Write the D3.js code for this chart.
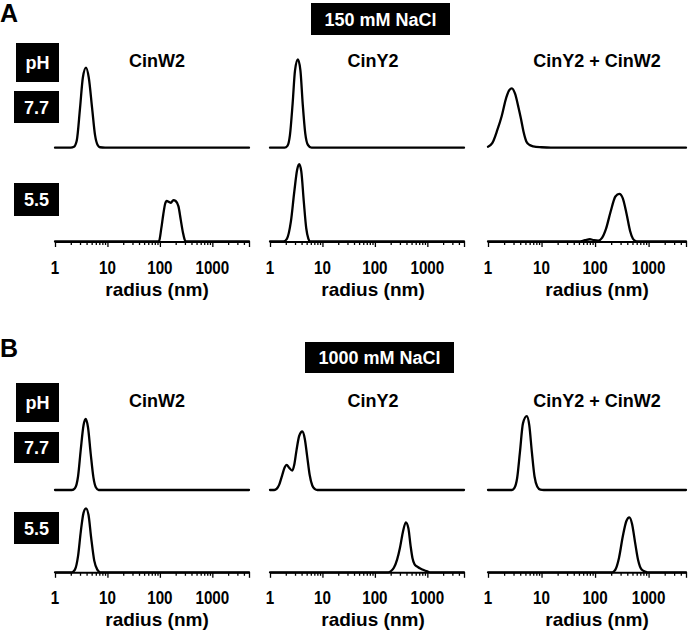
<!DOCTYPE html>
<html>
<head>
<meta charset="utf-8">
<script src="https://cdn.jsdelivr.net/npm/d3@7"></script>
<style>
  html, body { margin: 0; padding: 0; background: #fff; }
  svg { display: block; }
</style>
</head>
<body>
<script>
// ---------------- DATA ----------------
const panelLetters = ["A", "B"];
const salts = ["150 mM NaCl", "1000 mM NaCl"];
const proteins = ["CinW2", "CinY2", "CinY2 + CinW2"];
const pHs = ["7.7", "5.5"];
const radiusDomain = [1, 5000];
const majorTicks = [1, 10, 100, 1000];
const minorTicks = [2, 3, 4, 5, 6, 7, 8, 9, 20, 30, 40, 50, 60, 70, 80, 90,
  200, 300, 400, 500, 600, 700, 800, 900, 2000, 3000, 4000, 5000];
const xLabel = "radius (nm)";

// size distributions: [radius (nm), intensity (a.u.)]
// 150 mM NaCl, pH 7.7
const na150_pH77_CinW2 = [[1,0],[2.0,0],[2.3,1],[2.6,8],[3.0,44],[3.4,78],[3.9,89],[4.4,78],[5.1,44],[5.8,14],[6.5,3],[7.2,0.5],[9,0],[5000,0]];
const na150_pH77_CinY2 = [[1,0],[1.9,0],[2.15,2],[2.4,14],[2.7,49],[3.0,86],[3.4,98],[3.8,86],[4.2,49],[4.7,16],[5.3,3],[6.2,0],[5000,0]];
const na150_pH77_Mix = [[1,1],[1.2,5],[1.5,20],[1.8,35],[2.2,56],[2.5,64],[2.8,66],[3.2,60],[3.7,45],[4.1,33],[4.6,18],[5.2,7],[6,3],[7,1.5],[10,0.5],[15,0],[5000,0]];
// 150 mM NaCl, pH 5.5
const na150_pH55_CinW2 = [[1,0],[92,0],[97,1],[106,14],[116,30],[126,42],[135,45],[148,44],[162,43],[181,46],[200,45],[226,39],[250,24],[275,10],[302,1],[320,0],[5000,0]];
const na150_pH55_CinY2 = [[1,0],[1.8,0],[2.1,3],[2.5,22],[2.9,55],[3.3,80],[3.6,86],[3.95,78],[4.4,45],[4.9,15],[5.4,3],[5.8,0],[5000,0]];
const na150_pH55_Mix = [[1,0],[50,0],[65,1.5],[80,2.5],[95,1.5],[115,1],[135,4],[160,14],[195,33],[240,50],[284,53],[330,48],[390,30],[450,12],[510,3],[570,0.5],[620,0],[5000,0]];
// 1000 mM NaCl, pH 7.7
const na1000_pH77_CinW2 = [[1,0],[2.1,0],[2.4,2],[2.75,15],[3.1,45],[3.5,72],[3.85,79],[4.25,70],[4.8,40],[5.4,14],[6.0,3],[6.8,0],[5000,0]];
const na1000_pH77_CinY2 = [[1,0],[1.2,0],[1.35,1.5],[1.5,6],[1.7,16],[1.9,25],[2.08,28],[2.3,25],[2.66,21.5],[2.9,28],[3.2,44],[3.6,60],[4.13,65],[4.6,57],[5.1,38],[5.7,17],[6.4,5],[7.2,1],[8,0],[5000,0]];
const na1000_pH77_Mix = [[1,0],[2.8,0],[3.1,2],[3.5,13],[3.95,42],[4.5,74],[5.3,82],[5.9,72],[6.6,42],[7.4,15],[8.3,4],[9.5,0.5],[11,0],[5000,0]];
// 1000 mM NaCl, pH 5.5
const na1000_pH55_CinW2 = [[1,0],[2.1,0],[2.4,3],[2.75,18],[3.1,45],[3.5,66],[3.9,71],[4.35,64],[4.9,38],[5.6,13],[6.4,3],[7.3,0],[5000,0]];
const na1000_pH55_CinY2 = [[1,0],[180,0],[200,1],[230,5],[265,14],[300,27],[340,44],[389,55.5],[435,49],[478,30],[520,16],[570,9],[630,6.5],[720,4.5],[850,2.5],[1000,1],[1150,0],[5000,0]];
const na1000_pH55_Mix = [[1,0],[210,0],[240,3],[280,16],[330,40],[385,57],[437,61],[490,54],[560,33],[640,13],[740,3],[880,0.5],[950,0],[5000,0]];

const curves = [
  [[na150_pH77_CinW2, na150_pH77_CinY2, na150_pH77_Mix],
   [na150_pH55_CinW2, na150_pH55_CinY2, na150_pH55_Mix]],
  [[na1000_pH77_CinW2, na1000_pH77_CinY2, na1000_pH77_Mix],
   [na1000_pH55_CinW2, na1000_pH55_CinY2, na1000_pH55_Mix]]
];

// ---------------- LAYOUT ----------------
const W = 693, H = 630;
const FONT = "'Liberation Sans', Arial, Helvetica, sans-serif";
const NARROW = "'Liberation Sans Narrow', 'Arial Narrow', 'Liberation Sans', sans-serif";
const colRanges = [[55, 249], [270, 464], [488, 686]];
const titleCenters = [157, 373, 597];
const panels = [
  { letterY: 22, saltBox: [311, 3, 139, 32], titleY: 67,
    phBox: [16, 43, 43, 39], rowBoxes: [[14, 91, 45, 32], [14, 183, 45, 33]],
    baselines: [147.7, 241.5], tickY: 273.5, labelY: 296 },
  { letterY: 357, saltBox: [305, 342, 149, 31], titleY: 406.5,
    phBox: [16, 383, 43, 39], rowBoxes: [[14, 432, 45, 31], [14, 512, 45, 32]],
    baselines: [490, 572.3], tickY: 604, labelY: 626 }
];
const yUnitsTop = 100, yPixels = 90;

const svg = d3.select("body").append("svg")
  .attr("width", W).attr("height", H)
  .style("font-family", FONT).style("font-weight", "bold");

function labelBox(g, box, text) {
  const [x, y, w, h] = box;
  g.append("rect").attr("x", x).attr("y", y).attr("width", w).attr("height", h).attr("fill", "#000");
  g.append("text").attr("x", x + w / 2).attr("y", y + h / 2 + 6.5)
    .attr("text-anchor", "middle").attr("fill", "#fff").attr("font-size", 18).text(text);
}

panels.forEach((P, pi) => {
  const g = svg.append("g");
  g.append("text").attr("x", 0).attr("y", P.letterY).attr("font-size", 25).text(panelLetters[pi]);
  labelBox(g, P.saltBox, salts[pi]);
  labelBox(g, P.phBox, "pH");
  P.rowBoxes.forEach((b, ri) => labelBox(g, b, pHs[ri]));

  proteins.forEach((name, ci) => {
    g.append("text").attr("x", titleCenters[ci]).attr("y", P.titleY)
      .attr("text-anchor", "middle").attr("font-size", 18).text(name);

    const x = d3.scaleLog().domain(radiusDomain).range(colRanges[ci]);

    P.baselines.forEach((base, ri) => {
      const y = d3.scaleLinear().domain([0, yUnitsTop]).range([base, base - yPixels]);

      if (ri === 1) {
        const axis = d3.axisBottom(x)
          .tickValues(majorTicks.concat(minorTicks))
          .tickSizeInner(3).tickSizeOuter(0)
          .tickFormat("");
        const ag = g.append("g").attr("transform", `translate(0,${base})`).call(axis);
        ag.select(".domain").attr("stroke", "#000").attr("stroke-width", 2);
        ag.selectAll(".tick line").attr("stroke", "#000").attr("stroke-width", 1.3)
          .attr("y2", d => majorTicks.includes(d) ? 5.5 : 3.5);
        ag.selectAll(".tick").filter(d => d === 5000).select("line").attr("y2", 5.5);

        majorTicks.forEach(t => {
          g.append("g").attr("transform", `translate(${x(t)},${P.tickY}) scale(0.8,1)`)
            .append("text").attr("text-anchor", "middle")
            .style("font-family", NARROW).attr("font-size", 19).text(t);
        });
        g.append("text").attr("x", titleCenters[ci]).attr("y", P.labelY)
          .attr("text-anchor", "middle").attr("font-size", 19).text(xLabel);
      }

      const line = d3.line()
        .x(d => x(d[0])).y(d => y(d[1]))
        .curve(d3.curveMonotoneX);
      g.append("path").datum(curves[pi][ri][ci])
        .attr("d", line).attr("fill", "none").attr("stroke", "#000")
        .attr("stroke-width", 2.3).attr("stroke-linejoin", "round").attr("stroke-linecap", "round");
    });
  });
});
</script>
</body>
</html>
